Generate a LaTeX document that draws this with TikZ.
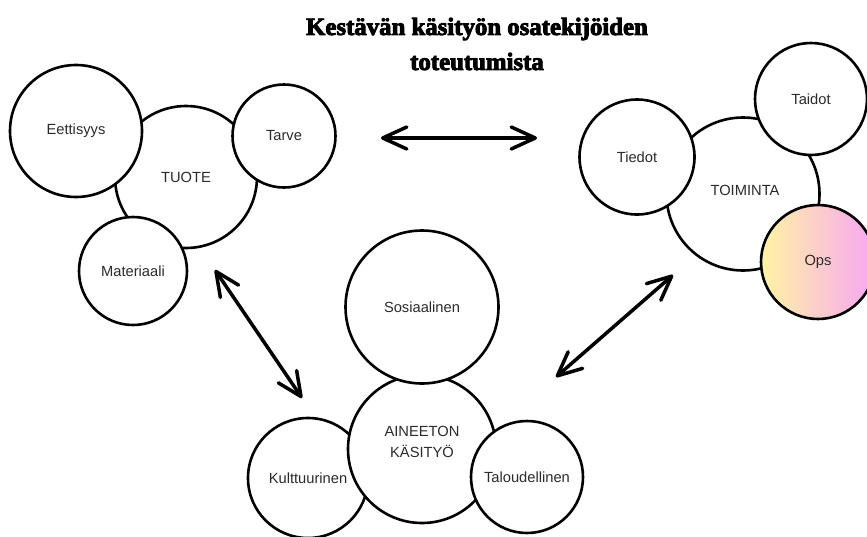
\documentclass[tikz,border=0pt]{standalone}
\usepackage{fontspec}
\newfontfamily\labfont{Liberation Sans}
\newfontfamily\titlefont{Liberation Serif}[BoldFeatures={FakeBold=3.5}]
\usetikzlibrary{arrows.meta}
\definecolor{txt}{HTML}{2B2B2B}
\definecolor{opsL}{HTML}{FFF4A3}
\definecolor{opsM}{HTML}{FACFD4}
\definecolor{opsR}{HTML}{F8A6F4}
\begin{document}
\begin{tikzpicture}[x=1pt,y=-1pt,
  bubble/.style={circle, draw=black, line width=2.6pt, fill=white, inner sep=0pt,
    font=\labfont\fontsize{14.7}{19}\selectfont, text=txt, align=center},
  lbl/.style={font=\labfont\fontsize{14.7}{21}\selectfont, text=txt, align=center, inner sep=0pt},
  barb/.tip={Straight Barb[length=24pt,width=22pt,round]},
  dbl/.style={line width=3.5pt, {barb}-{barb}}]
\fill[white] (0,0) rectangle (867,536);
\useasboundingbox (0,0) rectangle (867,536);

% title
\node[font=\titlefont\bfseries\fontsize{24.8}{35}\selectfont, align=center] (title) at (477,44)
  {Kestävän käsityön osatekijöiden\\toteutumista};

% TUOTE group
\node[bubble, minimum size=142pt] (tuote) at (186,177) {TUOTE};
\node[bubble, minimum size=132pt] (eett) at (76,131) {Eettisyys};
\node[bubble, minimum size=103pt] (tarve) at (284,136) {Tarve};
\node[bubble, minimum size=108pt] (mat) at (133,271) {Materiaali};

% TOIMINTA group
\node[bubble, minimum size=153pt] (toim) at (743,194) {};
\node[lbl] (toimt) at (745,190) {TOIMINTA};
\node[bubble, minimum size=115pt] (tiedot) at (637,157) {Tiedot};
\node[bubble, minimum size=112pt] (taidot) at (811,99) {Taidot};
\node[bubble, minimum size=114pt, left color=opsL, middle color=opsM, right color=opsR] (ops) at (818,262) {Ops};

% AINEETON group
\node[bubble, minimum size=120pt] (kult) at (308,478) {Kulttuurinen};
\node[bubble, minimum size=148pt] (ain) at (422,449) {};
\node[lbl] (aint) at (422,442) {AINEETON\\KÄSITYÖ};
\node[bubble, minimum size=153pt] (sos) at (422,307) {Sosiaalinen};
\node[bubble, minimum size=112pt] (tal) at (527,477) {Taloudellinen};

% arrows
\coordinate (h1) at (381,138);
\coordinate (h2) at (537,138);
\coordinate (l1) at (215,270);
\coordinate (l2) at (302,398);
\coordinate (r1) at (673,275);
\coordinate (r2) at (556,377);
\draw[dbl] (h1) -- (h2);
\draw[dbl] (l1) -- (l2);
\draw[dbl] (r1) -- (r2);
\end{tikzpicture}
\end{document}
